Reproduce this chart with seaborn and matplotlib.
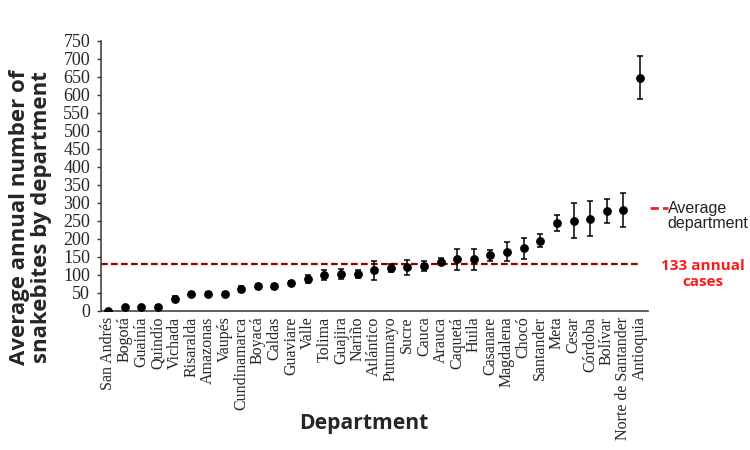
import matplotlib
matplotlib.use('Agg')
import matplotlib.pyplot as plt
from matplotlib.lines import Line2D
import seaborn as sns

# Departments ordered by average annual snakebites
departments = ['San Andrés', 'Bogotá', 'Guainía', 'Quindío', 'Vichada', 'Risaralda',
               'Amazonas', 'Vaupés', 'Cundinamarca', 'Boyacá', 'Caldas', 'Guaviare',
               'Valle', 'Tolima', 'Guajira', 'Nariño', 'Atlántico', 'Putumayo', 'Sucre',
               'Cauca', 'Arauca', 'Caquetá', 'Huila', 'Casanare', 'Magdalena', 'Chocó',
               'Santander', 'Meta', 'Cesar', 'Córdoba', 'Bolívar', 'Norte de Santander',
               'Antioquia']
mean_cases = [0, 10, 10, 12, 34, 46, 47, 47, 61, 68, 69, 78,
              89, 100, 102, 102, 113, 119, 121, 125, 137, 143, 143, 155,
              165, 174, 195, 244, 251, 256, 278, 280, 648]
err_cases = [0, 3, 3, 4, 7, 5, 6, 5, 7, 6, 7, 6,
             10, 15, 14, 11, 26, 12, 21, 13, 9, 28, 30, 15,
             27, 29, 18, 22, 49, 49, 34, 48, 60]
average_line = 130

sns.set_style('ticks')
plt.rcParams['font.family'] = ['Liberation Serif', 'DejaVu Serif']

fig = plt.figure(figsize=(7.5, 4.5), dpi=100)
ax = fig.add_axes([0.135, 0.309, 0.729, 0.6])

ax.errorbar(departments, mean_cases, yerr=err_cases, fmt='none',
            ecolor='black', elinewidth=1.1, capsize=2.5, capthick=1.1, zorder=2)
sns.scatterplot(x=departments, y=mean_cases, color='black', s=40,
                edgecolor='black', linewidth=0, ax=ax, zorder=3)

# average line across departments
ax.plot([-0.42, len(departments) - 1], [average_line, average_line],
        color='#8b0000', linestyle='--', linewidth=1.6, dashes=(3, 1.5), zorder=1)

ax.set_ylim(0, 750)
ax.set_xlim(-0.42, len(departments) - 0.52)
ax.set_yticks(range(0, 751, 50))
ax.tick_params(axis='y', labelsize=13, length=3, width=1, color='#333333', pad=5)
ax.tick_params(axis='x', labelsize=11.5, length=0, rotation=90, pad=4)
sns.despine(ax=ax)
for sp in ['left', 'bottom']:
    ax.spines[sp].set_color('#444444')
    ax.spines[sp].set_linewidth(1.2)

fig.text(0.041, 0.518, 'Average annual number of\nsnakebites by department', fontsize=16,
         fontweight='bold', family=['Open Sans', 'DejaVu Sans'], rotation=90,
         ha='center', va='center', linespacing=1.05)
fig.text(0.485, 0.06, 'Department', fontsize=15.2, fontweight='bold',
         family=['Open Sans', 'DejaVu Sans'], ha='center', va='center')

# legend-like annotation
fig.add_artist(Line2D([0.867, 0.891], [0.537, 0.537], color='#e8262c',
                      linewidth=2, linestyle='--', dashes=(3, 1.5)))
fig.text(0.89, 0.52, 'Average\ndepartment', color='#222222', fontsize=11.5,
         family=['Liberation Sans', 'DejaVu Sans'], va='center', ha='left',
         linespacing=1.0)
fig.text(0.937, 0.392, '133 annual\ncases', color='#ff1a1a', fontsize=11,
         fontweight='bold', family=['Open Sans', 'DejaVu Sans'], va='center',
         ha='center', linespacing=1.2)

plt.savefig('out.png', dpi=100)
